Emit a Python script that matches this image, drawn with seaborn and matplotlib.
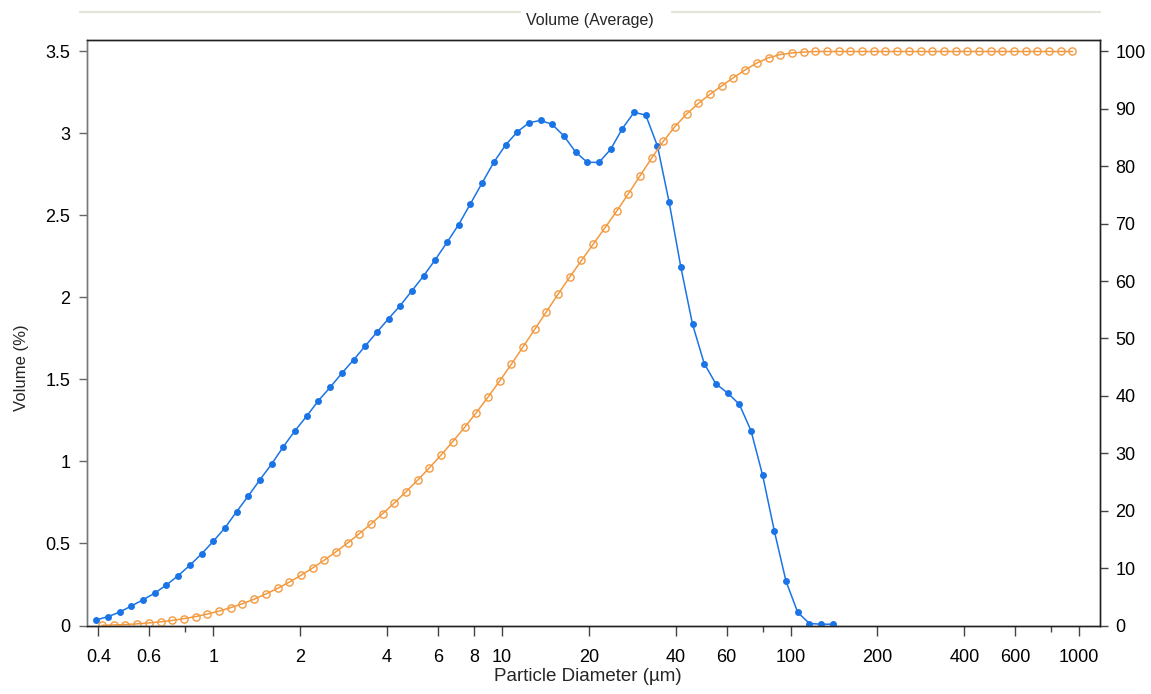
import matplotlib
matplotlib.use("Agg")
import matplotlib.pyplot as plt
import pandas as pd
import seaborn as sns
from matplotlib.lines import Line2D
from matplotlib.ticker import FixedLocator, FixedFormatter, NullFormatter

# ---- data ----
# channel mid-point diameters (um) for the volume-density curve
density_diam = [0.393, 0.432, 0.474, 0.520, 0.571, 0.627, 0.688, 0.755, 0.829, 0.910,
                0.999, 1.097, 1.204, 1.322, 1.451, 1.593, 1.748, 1.919, 2.107, 2.313,
                2.539, 2.787, 3.060, 3.359, 3.687, 4.047, 4.443, 4.877, 5.354, 5.878,
                6.452, 7.083, 7.776, 8.536, 9.370, 10.29, 11.29, 12.40, 13.61, 14.94,
                16.40, 18.00, 19.76, 21.70, 23.82, 26.14, 28.70, 31.51, 34.59, 37.97,
                41.68, 45.76, 50.23, 55.14, 60.53, 66.44, 72.94, 80.07, 87.90, 96.49,
                105.9, 116.3, 127.6, 140.1]
volume_pct = [0.034, 0.054, 0.082, 0.119, 0.157, 0.198, 0.247, 0.304, 0.367, 0.436,
              0.513, 0.595, 0.694, 0.790, 0.889, 0.985, 1.090, 1.188, 1.277, 1.371,
              1.452, 1.538, 1.619, 1.704, 1.788, 1.871, 1.951, 2.041, 2.132, 2.231,
              2.336, 2.445, 2.571, 2.698, 2.824, 2.929, 3.009, 3.065, 3.080, 3.055,
              2.985, 2.887, 2.824, 2.824, 2.904, 3.030, 3.129, 3.112, 2.923, 2.580,
              2.185, 1.836, 1.597, 1.473, 1.418, 1.349, 1.188, 0.915, 0.575, 0.269,
              0.080, 0.012, 0.008, 0.008]

# channel upper-edge diameters (um) for the cumulative curve
cum_diam = [0.412, 0.452, 0.496, 0.545, 0.598, 0.657, 0.721, 0.791, 0.869, 0.953,
            1.047, 1.149, 1.261, 1.385, 1.520, 1.669, 1.832, 2.011, 2.208, 2.423,
            2.660, 2.920, 3.206, 3.519, 3.863, 4.240, 4.655, 5.110, 5.610, 6.158,
            6.760, 7.421, 8.147, 8.943, 9.818, 10.78, 11.83, 12.99, 14.26, 15.65,
            17.18, 18.86, 20.71, 22.73, 24.95, 27.39, 30.07, 33.01, 36.24, 39.78,
            43.67, 47.94, 52.62, 57.77, 63.41, 69.61, 76.42, 83.89, 92.09, 101.1,
            111.0, 121.8, 133.7, 146.8, 161.2, 176.9, 194.2, 213.2, 234.1, 256.9,
            282.1, 309.6, 339.9, 373.1, 409.6, 449.7, 493.6, 541.9, 594.9, 653.0,
            716.9, 786.9, 863.9, 948.3]
cum_pct = [0.03, 0.09, 0.17, 0.29, 0.45, 0.64, 0.89, 1.20, 1.56, 2.00,
           2.51, 3.11, 3.80, 4.59, 5.48, 6.46, 7.55, 8.74, 10.02, 11.39,
           12.84, 14.38, 16.00, 17.70, 19.49, 21.36, 23.31, 25.35, 27.48, 29.72,
           32.05, 34.50, 37.07, 39.77, 42.59, 45.52, 48.53, 51.59, 54.67, 57.73,
           60.71, 63.60, 66.43, 69.25, 72.15, 75.18, 78.31, 81.42, 84.35, 86.93,
           89.12, 90.95, 92.55, 94.02, 95.44, 96.79, 97.98, 98.89, 99.47, 99.74,
           99.90, 100, 100, 100, 100, 100, 100, 100, 100, 100,
           100, 100, 100, 100, 100, 100, 100, 100, 100, 100,
           100, 100, 100, 100]

x_major = [0.4, 0.6, 1, 2, 4, 6, 8, 10, 20, 40, 60, 100, 200, 400, 600, 1000]
x_major_labels = ["0.4", "0.6", "1", "2", "4", "6", "8", "10", "20", "40", "60",
                  "100", "200", "400", "600", "1000"]
x_minor = [0.8, 80, 800]
y_left_ticks = [0, 0.5, 1, 1.5, 2, 2.5, 3, 3.5]
y_left_labels = ["0", "0.5", "1", "1.5", "2", "2.5", "3", "3.5"]
y_right_ticks = [0, 10, 20, 30, 40, 50, 60, 70, 80, 90, 100]

BLUE = "#1a74e6"
ORANGE = "#f39a40"

sns.set_style("ticks")
plt.rcParams['font.family'] = ['Liberation Sans', 'DejaVu Sans']

fig = plt.figure(figsize=(11.51, 6.94), dpi=100)
ax = fig.add_axes([87 / 1151, 1 - 625.5 / 694, 1013 / 1151, 585.5 / 694])

df_den = pd.DataFrame({"diam": density_diam, "vol": volume_pct})
df_cum = pd.DataFrame({"diam": cum_diam, "cum": cum_pct})

sns.lineplot(data=df_den, x="diam", y="vol", ax=ax, color=BLUE, linewidth=1.1,
             marker="o", markersize=5, markeredgewidth=0, zorder=3)
ax2 = ax.twinx()
sns.lineplot(data=df_cum, x="diam", y="cum", ax=ax2, color=ORANGE, linewidth=1.1,
             marker="o", markersize=5.2, markeredgewidth=1.0, zorder=2)
for ln in ax2.lines:
    ln.set_markerfacecolor("none")
    ln.set_markeredgecolor(ORANGE)

ax.set_xscale("log")
ax.set_xlim(0.365, 1181)
ax.set_ylim(0, 3.57)
ax2.set_ylim(0, 102)

ax.xaxis.set_major_locator(FixedLocator(x_major))
ax.xaxis.set_major_formatter(FixedFormatter(x_major_labels))
ax.xaxis.set_minor_locator(FixedLocator(x_minor))
ax.xaxis.set_minor_formatter(NullFormatter())
ax.set_yticks(y_left_ticks)
ax.set_yticklabels(y_left_labels)
ax2.set_yticks(y_right_ticks)
ax2.set_yticklabels([str(v) for v in y_right_ticks])

ax.tick_params(axis="x", which="major", bottom=True, direction="out", length=7,
               width=1, color="#444444", pad=10, labelsize=13, labelcolor="black")
ax.tick_params(axis="x", which="minor", bottom=True, direction="out", length=4,
               width=1, color="#444444")
ax.tick_params(axis="y", left=True, direction="out", length=6, width=1,
               color="#666666", pad=6, labelsize=13, labelcolor="black")
ax2.tick_params(axis="y", right=True, direction="out", length=6, width=1,
                color="#444444", pad=5, labelsize=13, labelcolor="black")

for a in (ax, ax2):
    for side, sp in a.spines.items():
        sp.set_visible(True)
        sp.set_linewidth(1.0)
        sp.set_color("#222222")
    a.spines["left"].set_color("#777777")

ax.set_xlabel("Particle Diameter (\u00b5m)", fontsize=13.5)
ax.xaxis.set_label_coords(0.4946, -0.072)
ax.set_ylabel("Volume (%)", fontsize=12)
ax.yaxis.set_label_coords(-0.057, 0.44)
ax2.set_ylabel("")

fig.text(590 / 1151, 1 - 20 / 694, "Volume (Average)", ha="center", va="center",
         fontsize=11.5)
fig.add_artist(Line2D([80 / 1151, 520 / 1151], [1 - 12 / 694, 1 - 12 / 694],
                      color="#e4e4da", linewidth=1.6, transform=fig.transFigure))
fig.add_artist(Line2D([672 / 1151, 1100 / 1151], [1 - 12 / 694, 1 - 12 / 694],
                      color="#e4e4da", linewidth=1.6, transform=fig.transFigure))

fig.savefig("out.png", dpi=100)
